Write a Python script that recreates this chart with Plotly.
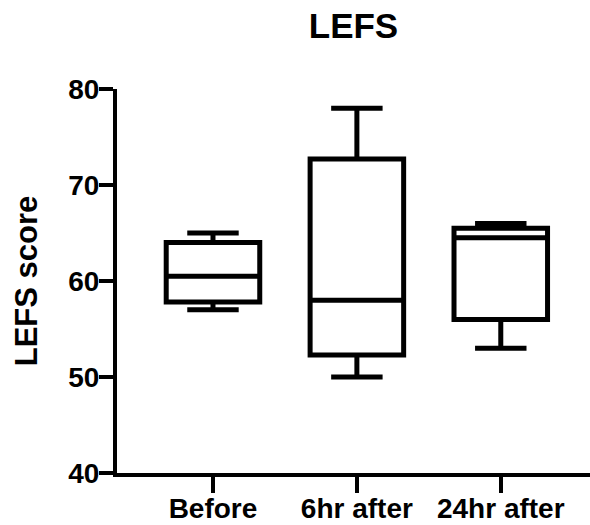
import plotly.graph_objects as go

# Summary statistics per time point (min, Q1, median, Q3, max)
categories = ["Before", "6hr after", "24hr after"]
minimum = [57, 50, 53]
q1 = [57.8, 52.3, 56]
median = [60.5, 58, 64.5]
q3 = [64, 72.7, 65.5]
maximum = [65, 78, 66]

y_ticks = [40, 50, 60, 70, 80]

FONT = "Liberation Sans, Arial, sans-serif"


def bold(size):
    return dict(size=size, family=FONT, color="black", weight="bold")


fig = go.Figure(
    go.Box(
        x=categories,
        q1=q1,
        median=median,
        q3=q3,
        lowerfence=minimum,
        upperfence=maximum,
        line=dict(color="black", width=5),
        fillcolor="white",
        whiskerwidth=0.55,
        width=0.65,
        boxpoints=False,
        showlegend=False,
        hoverinfo="skip",
    )
)

fig.update_layout(
    width=590,
    height=525,
    margin=dict(l=117, r=0, t=89, b=52),
    plot_bgcolor="white",
    paper_bgcolor="white",
    font=dict(family=FONT, color="black"),
    title=dict(
        text="LEFS",
        x=0.5,
        xref="paper",
        xanchor="center",
        y=1 - 26 / 525,
        yref="container",
        yanchor="middle",
        font=bold(35),
    ),
)

fig.update_xaxes(
    type="category",
    range=[-0.667, 2.62],
    automargin=False,
    showline=True,
    linecolor="black",
    linewidth=4,
    ticks="outside",
    ticklen=16,
    tickwidth=4,
    tickcolor="black",
    showgrid=False,
    zeroline=False,
    tickfont=bold(28),
    ticklabelstandoff=-9,
)

fig.update_yaxes(
    range=[40, 80],
    automargin=False,
    tickvals=y_ticks,
    showline=True,
    linecolor="black",
    linewidth=4,
    ticks="outside",
    ticklen=14,
    tickwidth=4,
    tickcolor="black",
    showgrid=False,
    zeroline=False,
    tickfont=bold(28),
    ticklabelstandoff=-6,
    title=dict(
        text="LEFS score",
        font=bold(31),
        standoff=22,
    ),
)

fig.write_html("out.html")
